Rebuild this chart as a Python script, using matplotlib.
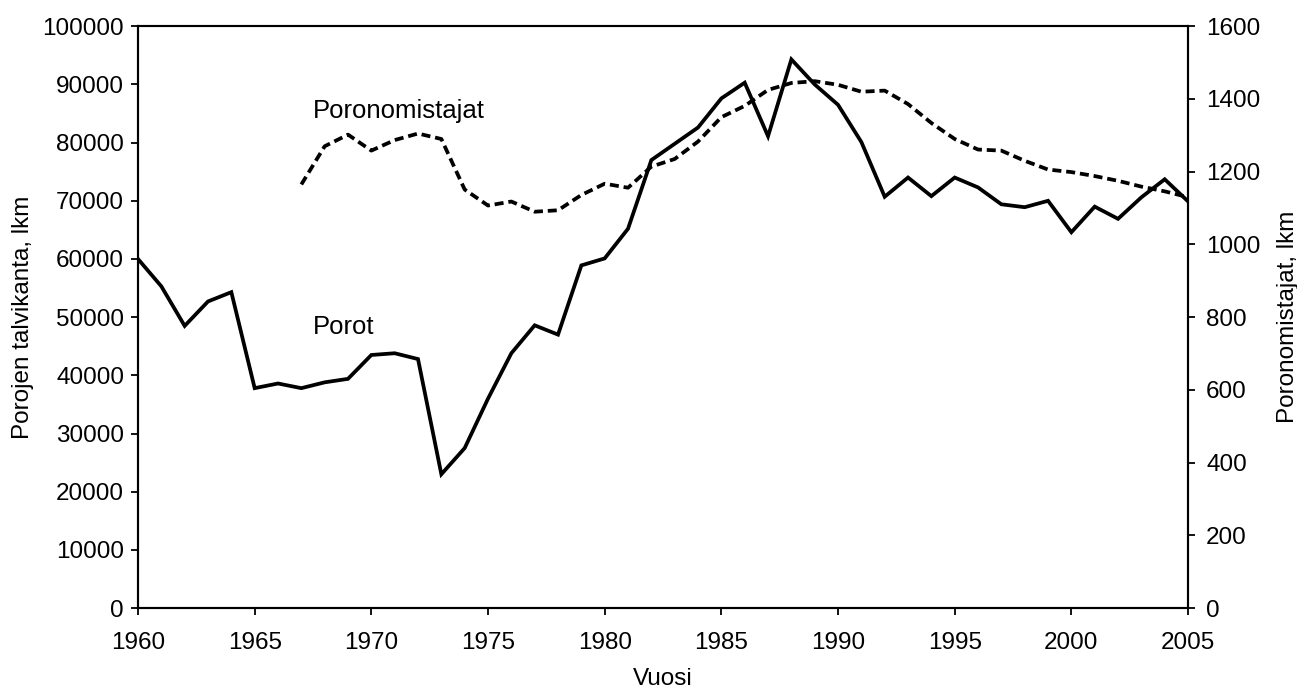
import numpy as np
import matplotlib.pyplot as plt

plt.rcParams['font.family'] = ['Liberation Sans', 'DejaVu Sans']
plt.rcParams['font.size'] = 17.5

# Porot (talvikanta) per year
years_porot = list(range(1960, 2006))
porot = [60000, 55300, 48500, 52700, 54300, 37800, 38600, 37800, 38800, 39400,
         43500, 43800, 42800, 23000, 27500, 36000, 43800, 48600, 47000, 58900,
         60100, 65200, 77000, 79800, 82600, 87600, 90300, 81100, 94300, 90000,
         86500, 80100, 70700, 74000, 70800, 74000, 72300, 69400, 68900, 70000,
         64600, 69000, 66900, 70600, 73700, 69900]

# Poronomistajat per year
years_omist = list(range(1967, 2006))
omistajat = [1165, 1270, 1302, 1258, 1287, 1305, 1290, 1151, 1107, 1118,
             1090, 1094, 1136, 1167, 1156, 1214, 1235, 1283, 1350, 1381,
             1425, 1444, 1449, 1439, 1420, 1423, 1386, 1334, 1290, 1261,
             1258, 1230, 1206, 1199, 1188, 1175, 1159, 1146, 1130]

xticks = list(range(1960, 2006, 5))

fig = plt.figure(figsize=(12.97, 6.91), dpi=100)
ax = fig.add_axes([0.1064, 0.120, 0.8096, 0.842])
ax2 = ax.twinx()

ax.plot(years_porot, porot, color='black', lw=2.7, solid_joinstyle='miter')
ax2.plot(years_omist, omistajat, color='black', lw=2.7, ls=(0, (2.4, 1.3)))

ax.set_xlim(1960, 2005)
ax.set_ylim(0, 100000)
ax2.set_ylim(0, 1600)
ax.set_xticks(xticks)
ax.set_yticks(np.arange(0, 100001, 10000))
ax2.set_yticks(np.arange(0, 1601, 200))

for a in (ax, ax2):
    a.tick_params(direction='out', length=5, width=1.3, pad=5, labelsize=17.5)
    for s in a.spines.values():
        s.set_linewidth(1.5)
ax.tick_params(axis='x', pad=12)
ax2.tick_params(axis='y', pad=8)
ax.spines['top'].set_color('#555555')

ax.set_xlabel('Vuosi', fontsize=17.5, labelpad=10)
ax.set_ylabel('Porojen talvikanta, lkm', fontsize=17.5, labelpad=6)
ax2.set_ylabel('Poronomistajat, lkm', fontsize=17.5, labelpad=12)

ax.text(1967.5, 85500, 'Poronomistajat', fontsize=18.5, va='center', ha='left')
ax.text(1967.5, 48300, 'Porot', fontsize=18.5, va='center', ha='left')

plt.savefig('out.png', dpi=100)
